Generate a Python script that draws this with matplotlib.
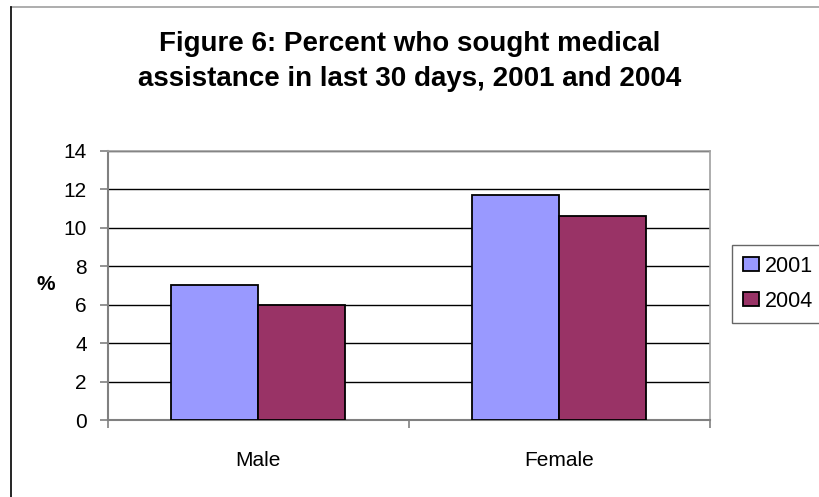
import numpy as np
import matplotlib
matplotlib.use("Agg")
import matplotlib.pyplot as plt
from matplotlib.lines import Line2D

categories = ["Male", "Female"]
series_names = ["2001", "2004"]
values_2001 = [7.0, 11.7]
values_2004 = [6.0, 10.6]
y_ticks = [0, 2, 4, 6, 8, 10, 12, 14]

plt.rcParams["font.family"] = ["Liberation Sans", "DejaVu Sans"]

W, H = 820, 497
fig = plt.figure(figsize=(W / 100, H / 100), dpi=100)
ax = fig.add_axes([107.7 / W, 1 - 420 / H, (710 - 107.7) / W, (420 - 150.7) / H])

x = np.arange(len(categories))
w = 0.289
ax.bar(x - w / 2, values_2001, w, color="#9999FF", edgecolor="black",
       linewidth=1.3, label=series_names[0], zorder=3)
ax.bar(x + w / 2, values_2004, w, color="#993366", edgecolor="black",
       linewidth=1.3, label=series_names[1], zorder=3)

ax.set_xlim(-0.5, 1.5)
ax.set_ylim(0, 14)
ax.set_yticks(y_ticks)
ax.set_yticklabels([str(t) for t in y_ticks], fontsize=15)
ax.yaxis.grid(True, color="black", linewidth=1, zorder=0)
ax.set_axisbelow(True)

# category ticks sit on the boundaries, labels in the middle
ax.set_xticks([-0.5, 0.5, 1.5])
ax.set_xticklabels([])
ax.set_xticks(x, minor=True)
ax.set_xticklabels(categories, minor=True, fontsize=15)
ax.tick_params(axis="x", which="major", length=6, width=1.2, color="#808080")
ax.tick_params(axis="x", which="minor", length=0, pad=22)
ax.tick_params(axis="y", length=6, width=1.2, color="#808080", pad=9)

for side in ["left", "bottom"]:
    ax.spines[side].set_color("#808080")
    ax.spines[side].set_linewidth(1.5)
for side in ["top", "right"]:
    ax.spines[side].set_color("#a0a0a0")
    ax.spines[side].set_linewidth(1.2)

fig.text(46 / W, 1 - 285 / H, "%", ha="center", va="center",
         fontsize=15, fontweight="bold")

fig.text(0.5, 1 - 51 / H, "Figure 6: Percent who sought medical",
         ha="center", va="baseline", fontsize=20, fontweight="bold")
fig.text(0.5, 1 - 86 / H, "assistance in last 30 days, 2001 and 2004",
         ha="center", va="baseline", fontsize=20, fontweight="bold")

leg = ax.legend(loc="upper left", bbox_to_anchor=(732 / W, 1 - 245 / H),
                bbox_transform=fig.transFigure, fontsize=15.5,
                frameon=True, fancybox=False, edgecolor="#404040",
                handlelength=0.75, handleheight=0.65, handletextpad=0.3,
                labelspacing=0.65, borderpad=0.5, borderaxespad=0)
leg.get_frame().set_linewidth(1.0)

# chart frame: only the top and left edges fall inside the image
fig.add_artist(Line2D([11 / W, 1], [1 - 7 / H, 1 - 7 / H], transform=fig.transFigure,
                      color="#a0a0a0", linewidth=1.2))
fig.add_artist(Line2D([11 / W, 11 / W], [0, 1 - 7 / H], transform=fig.transFigure,
                      color="black", linewidth=1.2))

fig.savefig("out.png", dpi=100)
